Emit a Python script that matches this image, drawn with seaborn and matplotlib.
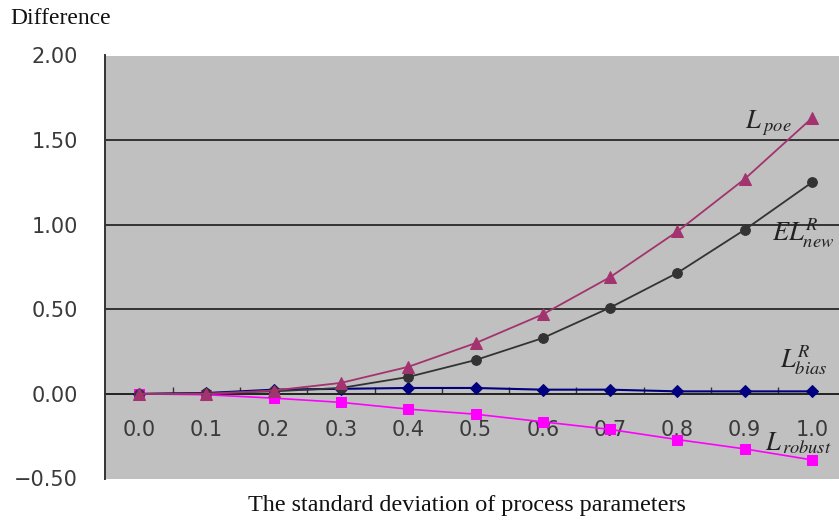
import numpy as np
import pandas as pd
import seaborn as sns
import matplotlib.pyplot as plt
from matplotlib.ticker import FixedLocator

sd = [0.0, 0.1, 0.2, 0.3, 0.4, 0.5, 0.6, 0.7, 0.8, 0.9, 1.0]
l_poe = [0.0, 0.0, 0.02, 0.065, 0.16, 0.30, 0.47, 0.69, 0.96, 1.27, 1.63]
el_new = [0.0, 0.005, 0.015, 0.035, 0.10, 0.20, 0.33, 0.51, 0.715, 0.97, 1.25]
l_bias = [0.0, 0.005, 0.025, 0.03, 0.035, 0.035, 0.025, 0.025, 0.015, 0.015, 0.015]
l_robust = [0.0, -0.005, -0.025, -0.05, -0.09, -0.12, -0.165, -0.21, -0.27, -0.325, -0.39]
y_ticks = [-0.5, 0.0, 0.5, 1.0, 1.5, 2.0]
x_ticks = sd

sns.set_style("white")
plt.rcParams["font.family"] = ["DejaVu Sans"]
plt.rcParams["mathtext.fontset"] = "stix"

fig = plt.figure(figsize=(8.39, 5.2), dpi=100)
ax = fig.add_axes([105.4 / 839, 1 - 478.5 / 520, 740.2 / 839, 423 / 520])
ax.set_facecolor("#c0c0c0")

series = [
    (l_bias, "#000080", "D", 6.5, 1.5),
    (l_robust, "#ff00ff", "s", 6.5, 1.2),
    (el_new, "#333333", "o", 7.0, 1.3),
    (l_poe, "#a3336e", "^", 8.0, 1.3),
]
for vals, col, mk, ms, lw in series:
    sns.lineplot(x=sd, y=vals, ax=ax, color=col, marker=mk, markersize=ms,
                 markeredgecolor=col, linewidth=lw, zorder=3)

ax.set_xlim(-0.05, 1.05)
ax.set_ylim(-0.5, 2.0)

# horizontal grid lines
for yv in [0.5, 1.0, 1.5]:
    ax.axhline(yv, color="#333333", linewidth=1.4, zorder=1)

for s in ["top", "right"]:
    ax.spines[s].set_visible(False)
ax.spines["left"].set_color("#333333")
ax.spines["left"].set_linewidth(1.4)
ax.spines["bottom"].set_position(("data", 0))
ax.spines["bottom"].set_color("#222222")
ax.spines["bottom"].set_linewidth(1.4)
ax.spines["bottom"].set_zorder(2)

ax.xaxis.set_major_locator(FixedLocator(x_ticks))
ax.xaxis.set_minor_locator(FixedLocator([v + 0.05 for v in x_ticks[:-1]]))
ax.set_xticklabels([f"{v:.1f}" for v in x_ticks])
ax.tick_params(axis="x", which="major", length=0, pad=19, labelsize=15, labelcolor="#3a3a3a")
ax.tick_params(axis="x", which="minor", direction="in", length=5, width=1, color="#333333", bottom=True)

ax.set_yticks(y_ticks)
ax.set_yticklabels(["\u22120.50" if v < 0 else f"{v:.2f}" for v in y_ticks])
ax.tick_params(axis="y", length=0, pad=20, labelsize=15, labelcolor="#3a3a3a")

fig.text(10 / 839, 1 - 19 / 520, "Difference", family="Liberation Serif", fontsize=17,
         va="center", ha="left", color="#111111")
fig.text(467 / 839, 1 - 505 / 520, "The standard deviation of process parameters",
         family="Liberation Serif", fontsize=17.4, va="center", ha="center", color="#111111")

lab = dict(fontsize=19, color="#222222", ha="left", va="center")
ax.text(0.90, 1.60, r"$L_{\;poe}$", **lab)
ax.text(0.94, 0.95, r"$EL_{new}^{R}$", **lab)
ax.text(0.952, 0.20, r"$L_{bias}^{R}$", **lab)
ax.text(0.93, -0.29, r"$L_{\,robust}$", **lab)

fig.savefig("out.png", dpi=100)
